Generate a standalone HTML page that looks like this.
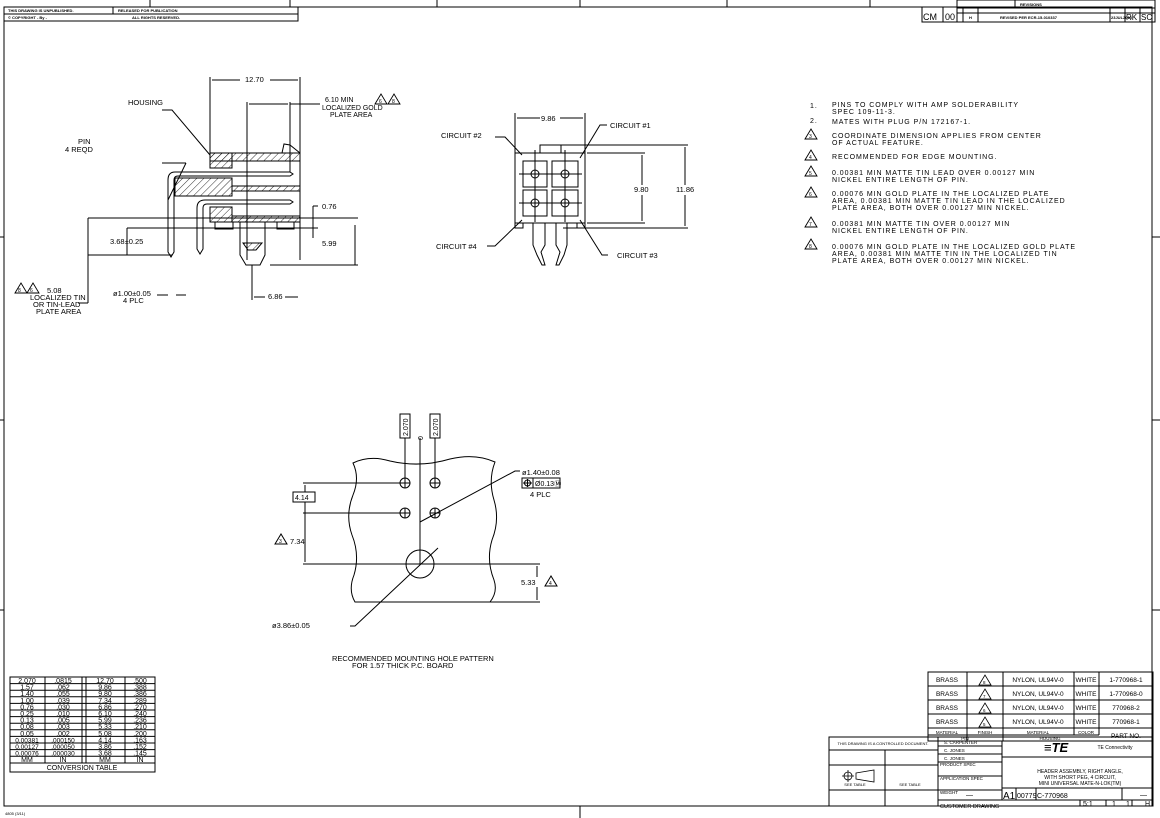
<!DOCTYPE html>
<html><head><meta charset="utf-8"><style>
html,body{margin:0;padding:0;background:#fff;}
svg{display:block;font-family:"Liberation Sans",sans-serif;}
text{fill:#000;}
</style></head><body>
<svg width="1160" height="818" viewBox="0 0 1160 818" xmlns="http://www.w3.org/2000/svg">
<defs>
<pattern id="h" width="5" height="5" patternUnits="userSpaceOnUse" patternTransform="rotate(45)"><line x1="0" y1="0" x2="0" y2="5" stroke="#000" stroke-width="0.8"/></pattern>
</defs>
<g fill="none" stroke="#000" stroke-width="1">
<rect x="4" y="7" width="1148" height="799"/>
<line x1="4" y1="237" x2="0" y2="237"/><line x1="4" y1="420" x2="0" y2="420"/><line x1="4" y1="610" x2="0" y2="610"/>
<line x1="1152" y1="237" x2="1160" y2="237"/><line x1="1152" y1="420" x2="1160" y2="420"/><line x1="1152" y1="610" x2="1160" y2="610"/>
<line x1="580" y1="806" x2="580" y2="818"/>
<line x1="150" y1="0" x2="150" y2="7"/><line x1="290" y1="0" x2="290" y2="7"/><line x1="437" y1="0" x2="437" y2="7"/><line x1="580" y1="0" x2="580" y2="7"/><line x1="727" y1="0" x2="727" y2="7"/><line x1="870" y1="0" x2="870" y2="7"/><line x1="1015" y1="0" x2="1015" y2="7"/>
<rect x="4" y="7" width="294" height="14"/><line x1="113" y1="7" x2="113" y2="14"/><line x1="4" y1="14" x2="298" y2="14"/>
<rect x="922" y="7" width="35" height="15"/><line x1="943" y1="7" x2="943" y2="22"/>
<rect x="957" y="0" width="198" height="22"/><line x1="957" y1="8" x2="1155" y2="8"/><line x1="957" y1="13" x2="1155" y2="13"/>
<line x1="963" y1="8" x2="963" y2="22"/><line x1="978" y1="8" x2="978" y2="22"/><line x1="1110" y1="8" x2="1110" y2="22"/><line x1="1125" y1="8" x2="1125" y2="22"/><line x1="1140" y1="8" x2="1140" y2="22"/>
</g>
<g font-size="4" font-weight="bold">
<text x="8" y="12">THIS DRAWING IS UNPUBLISHED.</text><text x="118" y="12">RELEASED FOR PUBLICATION</text>
<text x="8" y="19">© COPYRIGHT  -   By -</text><text x="132" y="19">ALL RIGHTS RESERVED.</text>
<text x="1020" y="6">REVISIONS</text><text x="1000" y="19">REVISED PER ECR-15-010337</text><text x="1111" y="19">23JUL2015</text><text x="969" y="19">H</text>
</g>
<g font-size="9"><text x="923" y="20">CM</text><text x="945" y="20">00</text><text x="1126" y="20" font-size="8">RK</text><text x="1141" y="20" font-size="8">SC</text></g>

<!-- SIDE VIEW -->
<g stroke="#000" stroke-width="1" fill="none">
<line x1="210" y1="77" x2="210" y2="153"/><line x1="300" y1="77" x2="300" y2="260"/>
<line x1="212" y1="80" x2="240" y2="80"/><line x1="270" y1="80" x2="298" y2="80"/>
<line x1="247" y1="102" x2="247" y2="260"/><line x1="290" y1="102" x2="290" y2="172"/>
<line x1="249" y1="104" x2="288" y2="104"/><line x1="290" y1="104" x2="320" y2="104"/>
<rect x="210" y="153" width="90" height="8" fill="url(#h)"/>
<rect x="210" y="153" width="22" height="15" fill="url(#h)"/>
<path d="M282 153 L284 144 L290 145 L300 153"/>
<path d="M290 172 L175 172 Q168 172 168 180 L168 252 L171 257 L174 252 L174 180 Q174 176 178 176 L290 176 L293 174 Z"/>
<rect x="175" y="178" width="57" height="18" fill="url(#h)"/>
<rect x="232" y="186" width="68" height="5" fill="url(#h)"/>
<path d="M290 200 L205 200 Q197 200 197 208 L197 249 L200 254 L203 249 L203 208 Q203 204 207 204 L290 204 L293 202 Z"/>
<rect x="210" y="207" width="22" height="15" fill="url(#h)"/>
<rect x="232" y="216" width="68" height="6" fill="url(#h)"/>
<rect x="215" y="222" width="18" height="7"/><rect x="277" y="222" width="17" height="7"/>
<path d="M240 222 L240 255 L246 265 L260 265 L265 255 L265 222"/>
<path d="M243 243 L262 243 L256 250 L248 250 Z" fill="url(#h)"/>
<line x1="88" y1="218" x2="358" y2="218"/><line x1="88" y1="255" x2="172" y2="255"/>
<line x1="88" y1="218" x2="88" y2="303"/><line x1="78" y1="303" x2="88" y2="303"/>
<line x1="127" y1="228" x2="300" y2="228"/><line x1="127" y1="228" x2="127" y2="255"/>
<line x1="298" y1="228" x2="318" y2="228"/>
<line x1="313" y1="206" x2="313" y2="238"/><line x1="313" y1="206" x2="318" y2="206"/>
<line x1="355" y1="225" x2="355" y2="265"/><line x1="270" y1="265" x2="358" y2="265"/>
<line x1="252" y1="265" x2="252" y2="300"/><line x1="254" y1="297" x2="265" y2="297"/><line x1="285" y1="297" x2="298" y2="297"/>
<line x1="157" y1="295" x2="168" y2="295"/><line x1="176" y1="295" x2="186" y2="295"/>
<path d="M162 163 L186 163"/><path d="M186 163 L168 200"/>
<path d="M162 110 L172 110 L210 155"/>
</g>
<g font-size="7.5">
<text x="245" y="82">12.70</text>
<text x="325" y="102" font-size="7">6.10 MIN</text><text x="322" y="110" font-size="7">LOCALIZED GOLD</text><text x="330" y="117" font-size="7">PLATE AREA</text>
<text x="128" y="105">HOUSING</text>
<text x="78" y="144">PIN</text><text x="65" y="152">4  REQD</text>
<text x="110" y="244">3.68±0.25</text>
<text x="322" y="246">5.99</text><text x="322" y="209">0.76</text>
<text x="268" y="299">6.86</text>
<text x="113" y="296">ø1.00±0.05</text><text x="123" y="303">4 PLC</text>
<text x="47" y="293">5.08</text><text x="30" y="300">LOCALIZED TIN</text><text x="33" y="307">OR TIN-LEAD</text><text x="36" y="314">PLATE AREA</text>
</g>
<g fill="none" stroke="#000" stroke-width="0.9">
<path d="M375 104 L381 94 L387 104 Z"/><path d="M388 104 L394 94 L400 104 Z"/>
<path d="M15 293 L21 283 L27 293 Z"/><path d="M27 293 L33 283 L39 293 Z"/>
</g>
<g font-size="5"><text x="379" y="103">6</text><text x="392" y="103">8</text><text x="18" y="292">8</text><text x="30" y="292">6</text></g>

<!-- FRONT VIEW -->
<g stroke="#000" fill="none" stroke-width="1">
<line x1="515" y1="113" x2="515" y2="153"/><line x1="585" y1="113" x2="585" y2="153"/>
<line x1="517" y1="118" x2="540" y2="118"/><line x1="560" y1="118" x2="583" y2="118"/>
<rect x="515" y="153" width="70" height="70"/>
<rect x="540" y="145" width="21" height="8"/>
<line x1="561" y1="145" x2="688" y2="145"/><line x1="587" y1="153" x2="645" y2="153"/>
<line x1="587" y1="223" x2="645" y2="223"/><line x1="563" y1="228" x2="688" y2="228"/>
<line x1="642" y1="155" x2="642" y2="185"/><line x1="642" y1="195" x2="642" y2="221"/>
<line x1="685" y1="147" x2="685" y2="185"/><line x1="685" y1="195" x2="685" y2="226"/>
<rect x="523" y="161" width="24" height="26"/><rect x="552" y="161" width="26" height="26"/>
<rect x="523" y="190" width="24" height="26"/><rect x="552" y="190" width="26" height="26"/>
<circle cx="535" cy="174" r="4"/><circle cx="565" cy="174" r="4"/><circle cx="535" cy="203" r="4"/><circle cx="565" cy="203" r="4"/>
<line x1="519" y1="174" x2="582" y2="174"/><line x1="519" y1="203" x2="582" y2="203"/>
<line x1="535" y1="150" x2="535" y2="222"/><line x1="565" y1="150" x2="565" y2="222"/>
<rect x="515" y="223" width="8" height="5"/><rect x="577" y="223" width="8" height="5"/>
<path d="M533 223 L533 245 L537 255 L542 265 L545 265 L541 252 L545 245 L545 223"/>
<path d="M556 223 L556 245 L560 252 L556 265 L559 265 L564 255 L567 245 L567 223"/>
<path d="M495 137 L505 137 L522 155"/><path d="M607 125 L600 125 L580 158"/>
<path d="M487 246 L495 246 L522 220"/><path d="M608 255 L602 255 L580 220"/>
</g>
<g font-size="7.5">
<text x="541" y="121">9.86</text><text x="634" y="192">9.80</text><text x="676" y="192">11.86</text>
<text x="441" y="138">CIRCUIT  #2</text><text x="610" y="128">CIRCUIT  #1</text>
<text x="436" y="249">CIRCUIT  #4</text><text x="617" y="258">CIRCUIT  #3</text>
</g>

<!-- NOTES -->
<g font-size="7" letter-spacing="0.95">
<text x="810" y="108">1.</text><text x="832" y="107">PINS TO COMPLY WITH AMP SOLDERABILITY</text><text x="832" y="114">SPEC 109-11-3.</text>
<text x="810" y="123">2.</text><text x="832" y="124">MATES WITH PLUG P/N 172167-1.</text>
<text x="832" y="138">COORDINATE DIMENSION APPLIES FROM CENTER</text><text x="832" y="145">OF ACTUAL FEATURE.</text>
<text x="832" y="159">RECOMMENDED FOR EDGE MOUNTING.</text>
<text x="832" y="175">0.00381 MIN MATTE TIN LEAD OVER 0.00127 MIN</text><text x="832" y="182">NICKEL ENTIRE LENGTH OF PIN.</text>
<text x="832" y="196">0.00076 MIN GOLD PLATE IN THE LOCALIZED PLATE</text><text x="832" y="203">AREA, 0.00381 MIN MATTE TIN LEAD IN THE LOCALIZED</text><text x="832" y="210">PLATE AREA, BOTH OVER 0.00127 MIN NICKEL.</text>
<text x="832" y="226">0.00381 MIN MATTE TIN OVER 0.00127 MIN</text><text x="832" y="233">NICKEL ENTIRE LENGTH OF PIN.</text>
<text x="832" y="249">0.00076 MIN GOLD PLATE IN THE LOCALIZED GOLD PLATE</text><text x="832" y="256">AREA, 0.00381 MIN MATTE TIN IN THE LOCALIZED TIN</text><text x="832" y="263">PLATE AREA, BOTH OVER 0.00127 MIN NICKEL.</text>
</g>
<g fill="none" stroke="#000" stroke-width="0.9">
<path d="M805 139 L811 129 L817 139 Z"/><path d="M805 160 L811 150 L817 160 Z"/><path d="M805 176 L811 166 L817 176 Z"/><path d="M805 197 L811 187 L817 197 Z"/><path d="M805 227 L811 217 L817 227 Z"/><path d="M805 249 L811 239 L817 249 Z"/>
</g>
<g font-size="5"><text x="809" y="138">3</text><text x="809" y="159">4</text><text x="809" y="175">5</text><text x="809" y="196">6</text><text x="809" y="226">7</text><text x="809" y="248">8</text></g>

<!-- MOUNTING PATTERN -->
<g stroke="#000" fill="none" stroke-width="1">
<path d="M353 463 Q370 455 390 461 Q420 468 450 459 Q475 453 495 462 Q488 480 494 500 Q500 520 492 540 Q486 560 494 580 Q498 592 490 602 L355 602 Q348 590 354 575 Q360 555 352 535 Q345 515 353 495 Q360 478 353 463 Z"/>
<line x1="303" y1="564" x2="540" y2="564"/><line x1="490" y1="602" x2="540" y2="602"/>
<line x1="303" y1="483" x2="400" y2="483"/><line x1="303" y1="513" x2="400" y2="513"/>
<line x1="305" y1="485" x2="305" y2="492"/><line x1="305" y1="502" x2="305" y2="562"/>
<line x1="537" y1="566" x2="537" y2="577"/><line x1="537" y1="587" x2="537" y2="600"/>
<circle cx="405" cy="483" r="5"/><circle cx="435" cy="483" r="5"/><circle cx="405" cy="513" r="5"/><circle cx="435" cy="513" r="5"/>
<path d="M400 483h10M405 478v10M430 483h10M435 478v10M400 513h10M405 508v10M430 513h10M435 508v10"/>
<circle cx="420" cy="564" r="14"/>
<line x1="420" y1="438" x2="420" y2="564"/><line x1="405" y1="438" x2="405" y2="478"/><line x1="435" y1="438" x2="435" y2="478"/>
<rect x="400" y="414" width="10" height="24"/><rect x="430" y="414" width="10" height="24"/>
<rect x="293" y="492" width="22" height="10"/>
<path d="M420 522 L515 471 L520 471"/>
<path d="M438 548 L355 626 L350 626"/>
<rect x="522" y="478" width="38" height="10"/><line x1="533" y1="478" x2="533" y2="488"/>
<circle cx="527.5" cy="483" r="3"/><path d="M523 483h9M527.5 479v8"/>
<path d="M275 544 L281 534 L287 544 Z"/><path d="M545 586 L551 576 L557 586 Z"/>
</g>
<g font-size="7.5">
<text transform="translate(408,436) rotate(-90)" font-size="7">2.070</text>
<text transform="translate(438,436) rotate(-90)" font-size="7">2.070</text>
<text transform="translate(423,440) rotate(-90)" font-size="7">0</text>
<text x="295" y="500" font-size="7">4.14</text>
<text x="290" y="544">7.34</text><text x="521" y="585">5.33</text>
<text x="522" y="475">ø1.40±0.08</text><text x="535" y="486" font-size="7">Ø0.13Ⓜ</text><text x="530" y="497">4 PLC</text>
<text x="272" y="628">ø3.86±0.05</text>
<text x="332" y="661">RECOMMENDED MOUNTING HOLE PATTERN</text><text x="352" y="668">FOR 1.57 THICK P.C. BOARD</text>
</g>
<g font-size="5"><text x="279" y="543">3</text><text x="549" y="585">4</text></g>

<!-- CONVERSION TABLE -->
<g stroke="#000" fill="none" stroke-width="1">
<rect x="10" y="677" width="145" height="95"/>
<line x1="45" y1="677" x2="45" y2="763"/><line x1="82" y1="677" x2="82" y2="763"/><line x1="86" y1="677" x2="86" y2="763"/><line x1="125" y1="677" x2="125" y2="763"/>
<line x1="10" y1="763" x2="155" y2="763"/>
<path d="M10 683.6h145M10 690.2h145M10 696.8h145M10 703.4h145M10 710h145M10 716.6h145M10 723.2h145M10 729.8h145M10 736.4h145M10 743h145M10 749.6h145M10 756.2h145"/>
</g>
<g font-size="7" text-anchor="middle">
<text x="27" y="683">2.070</text><text x="63" y="683">.0815</text><text x="105" y="683">12.70</text><text x="140" y="683">.500</text>
<text x="27" y="689.6">1.57</text><text x="63" y="689.6">.062</text><text x="105" y="689.6">9.86</text><text x="140" y="689.6">.388</text>
<text x="27" y="696.2">1.40</text><text x="63" y="696.2">.055</text><text x="105" y="696.2">9.80</text><text x="140" y="696.2">.386</text>
<text x="27" y="702.8">1.00</text><text x="63" y="702.8">.039</text><text x="105" y="702.8">7.34</text><text x="140" y="702.8">.289</text>
<text x="27" y="709.4">0.76</text><text x="63" y="709.4">.030</text><text x="105" y="709.4">6.86</text><text x="140" y="709.4">.270</text>
<text x="27" y="716">0.25</text><text x="63" y="716">.010</text><text x="105" y="716">6.10</text><text x="140" y="716">.240</text>
<text x="27" y="722.6">0.13</text><text x="63" y="722.6">.005</text><text x="105" y="722.6">5.99</text><text x="140" y="722.6">.236</text>
<text x="27" y="729.2">0.08</text><text x="63" y="729.2">.003</text><text x="105" y="729.2">5.33</text><text x="140" y="729.2">.210</text>
<text x="27" y="735.8">0.05</text><text x="63" y="735.8">.002</text><text x="105" y="735.8">5.08</text><text x="140" y="735.8">.200</text>
<text x="27" y="742.4" font-size="6.5">0.00381</text><text x="63" y="742.4" font-size="6.5">.000150</text><text x="105" y="742.4">4.14</text><text x="140" y="742.4">.163</text>
<text x="27" y="749" font-size="6.5">0.00127</text><text x="63" y="749" font-size="6.5">.000050</text><text x="105" y="749">3.86</text><text x="140" y="749">.152</text>
<text x="27" y="755.6" font-size="6.5">0.00076</text><text x="63" y="755.6" font-size="6.5">.000030</text><text x="105" y="755.6">3.68</text><text x="140" y="755.6">.145</text>
<text x="27" y="762.2">MM</text><text x="63" y="762.2">IN</text><text x="105" y="762.2">MM</text><text x="140" y="762.2">IN</text>
<text x="82" y="770">CONVERSION TABLE</text>
</g>
<text x="5" y="815" font-size="4">4805 (3/11)</text>

<!-- TITLE BLOCK -->
<g stroke="#000" fill="none" stroke-width="1">
<rect x="928" y="672" width="225" height="69"/>
<path d="M928 686h225M928 700h225M928 714h225M928 728h225M928 735h171"/>
<path d="M967 672v69M1003 672v69M1074 672v63M1099 672v63"/>
<rect x="829" y="737" width="324" height="69"/>
<line x1="829" y1="737" x2="928" y2="737"/>
<path d="M938 737v69M1002 741v59M829 750h109M829 765h109M829 790h109M885 750v56"/>
<path d="M938 746h64M938 754h64M938 762h64M938 776h64M938 790h64"/>
<path d="M1002 757h151M1002 788h151M938 800h215"/>
<path d="M1016 788v12M1036 788v12M1122 788v12M1080 800v6M1106 800v6M1132 800v6"/>
</g>
<g font-size="6.5" text-anchor="middle">
<text x="947" y="682">BRASS</text><text x="1038" y="682">NYLON, UL94V-0</text><text x="1086" y="682">WHITE</text><text x="1126" y="682">1-770968-1</text>
<text x="947" y="696">BRASS</text><text x="1038" y="696">NYLON, UL94V-0</text><text x="1086" y="696">WHITE</text><text x="1126" y="696">1-770968-0</text>
<text x="947" y="710">BRASS</text><text x="1038" y="710">NYLON, UL94V-0</text><text x="1086" y="710">WHITE</text><text x="1126" y="710">770968-2</text>
<text x="947" y="724">BRASS</text><text x="1038" y="724">NYLON, UL94V-0</text><text x="1086" y="724">WHITE</text><text x="1126" y="724">770968-1</text>
<text x="947" y="734" font-size="4.5">MATERIAL</text><text x="985" y="734" font-size="4.5">FINISH</text><text x="1038" y="734" font-size="4.5">MATERIAL</text><text x="1086" y="734" font-size="4.5">COLOR</text>
<text x="965" y="740" font-size="4.5">PIN</text><text x="1050" y="740" font-size="4.5">HOUSING</text><text x="1126" y="738">PART NO.</text>
<text x="1080" y="773" font-size="5">HEADER ASSEMBLY, RIGHT ANGLE,</text><text x="1080" y="779" font-size="5">WITH SHORT PEG, 4 CIRCUIT,</text><text x="1080" y="785" font-size="5">MINI UNIVERSAL MATE-N-LOK(TM)</text>
<text x="883" y="745" font-size="4">THIS DRAWING IS A CONTROLLED DOCUMENT.</text>
<text x="855" y="786" font-size="4">SEE TABLE</text><text x="910" y="786" font-size="4">SEE TABLE</text>
<text x="1115" y="749" font-size="5">TE Connectivity</text>
</g>
<g fill="none" stroke="#000" stroke-width="0.8">
<path d="M979 685 L985 675 L991 685 Z"/><path d="M979 699 L985 689 L991 699 Z"/><path d="M979 713 L985 703 L991 713 Z"/><path d="M979 727 L985 717 L991 727 Z"/>
<circle cx="848" cy="776" r="4"/><path d="M842 776h12M848 770v12M856 773l18-3v12l-18-3z"/>
</g>
<g font-size="4.5"><text x="983" y="684">8</text><text x="983" y="698">7</text><text x="983" y="712">6</text><text x="983" y="726">5</text></g>
<text x="1044" y="752" font-size="13" font-weight="bold" font-style="italic">≡TE</text>
<g font-size="4.5">
<text x="944" y="744">S. CARPENTER</text><text x="944" y="752">C. JONES</text><text x="944" y="760">C. JONES</text>
<text x="940" y="766">PRODUCT SPEC</text><text x="940" y="780">APPLICATION SPEC</text><text x="940" y="794">WEIGHT</text>
</g>
<text x="940" y="808" font-size="5.5">CUSTOMER DRAWING</text>
<text x="1003" y="799" font-size="10">A1</text><text x="1017" y="798" font-size="7">00779</text><text x="1037" y="798" font-size="7">C-770968</text>
<text x="1083" y="806" font-size="7">5:1</text><text x="1112" y="806" font-size="7">1</text><text x="1126" y="806" font-size="7">1</text><text x="1145" y="806" font-size="7">H</text>
<text x="1140" y="797" font-size="7">—</text><text x="966" y="797" font-size="7">—</text>
</svg>
</body></html>
